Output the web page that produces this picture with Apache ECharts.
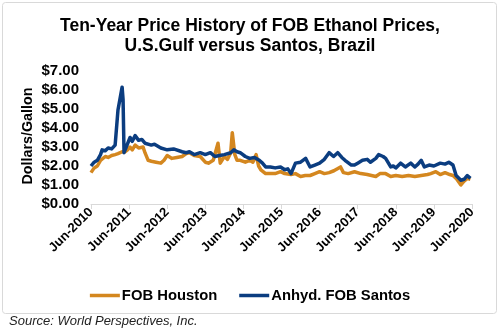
<!DOCTYPE html>
<html>
<head>
<meta charset="utf-8">
<script src="https://cdn.jsdelivr.net/npm/echarts@6/dist/echarts.min.js"></script>
<style>html,body{margin:0;padding:0;background:#fff;}#c{width:500px;height:332px;}</style>
</head>
<body>
<div id="c"></div>
<script>
// months since Jun-2010
var houstonX = [0,1,2,3,3.5,4.5,5.4,6.5,7.6,8.5,9.8,10.7,11.5,12.3,13,13.9,15,16.4,17,18,19,20.5,22,23,24,25.5,27,28.7,30,31,32.5,34.4,36,37,38.5,40,40.7,42,43,44,44.5,45.3,46,47,48.6,50,51,52,52.8,53.5,55,57,58,59.7,61,63,64.4,66,67.5,69,70.5,72,73.5,75,76.5,78.6,79.5,81,83,85,87,89.7,91,92.8,94.4,96,98,100,102,104,106,107,108.6,110,111.5,113,114,115,116.5,117.5,118.5,119.5];
var houstonY = [1.65,1.9,2.0,2.3,2.2,2.5,2.45,2.55,2.6,2.65,2.75,2.75,2.85,3.0,2.85,3.1,2.95,3.0,2.7,2.3,2.25,2.2,2.15,2.3,2.55,2.4,2.45,2.5,2.65,2.7,2.55,2.5,2.2,2.15,2.3,3.2,2.15,2.5,2.35,2.7,3.75,2.6,2.3,2.3,2.2,2.3,2.2,2.6,2.0,1.8,1.6,1.6,1.6,1.7,1.6,1.55,1.6,1.45,1.5,1.5,1.6,1.7,1.6,1.65,1.75,1.95,1.65,1.6,1.7,1.6,1.55,1.45,1.6,1.6,1.45,1.5,1.45,1.5,1.45,1.5,1.55,1.6,1.7,1.55,1.65,1.55,1.5,1.35,1.0,1.2,1.35,1.3];
var santosX = [0,1,2,3,3.5,4.5,5.4,6.5,7.6,8.2,8.5,9,9.8,10.1,10.4,11,12.3,13,13.9,15,16,17,19,20,22,24,26,28.7,30,31,32.5,34.4,36,37.6,39,40.5,42,44,45,46,47,48.6,50,51.5,53,54,55,56.5,58,59.7,61,62,63,64.4,66,67.6,69,70.5,72,73.5,75,76.4,77.7,79,80,82,83,84,85.5,87,88,89.7,90.6,92,92.8,94.4,95.2,96,97.5,99,100.7,102,103,104,105,106.5,108,110,111.5,112.7,114,115,116.5,117.5,118.5,119.5];
var santosY = [2.0,2.2,2.3,2.6,2.85,2.8,2.95,2.9,3.1,3.0,4.95,5.0,6.15,5.5,2.7,2.8,3.5,3.3,3.6,3.35,3.4,3.2,3.1,3.15,2.95,2.85,2.9,2.75,2.7,2.75,2.6,2.7,2.6,2.7,2.5,2.55,2.6,2.7,2.85,2.75,2.7,2.5,2.4,2.45,2.3,2.15,1.95,1.95,1.9,1.95,1.8,1.85,1.6,2.15,2.2,2.4,1.95,2.05,2.15,2.35,2.7,2.5,2.7,2.45,2.3,2.05,2.05,2.15,2.3,2.35,2.2,2.4,2.6,2.5,2.4,1.95,2.0,1.9,2.15,1.95,2.15,1.95,2.1,2.3,1.95,2.05,2.0,2.15,2.1,2.2,2.05,1.5,1.25,1.3,1.5,1.35];
var yTicks = [0,1,2,3,4,5,6,7];
var startYear = 2010;

function pairs(xs, ys){ return xs.map(function(x,i){ return [x, ys[i]]; }); }

var chart = echarts.init(document.getElementById('c'), null, {renderer:'canvas'});
var F = 'Liberation Sans, Arial, sans-serif';
chart.setOption({
  animation: false,
  textStyle: {fontFamily: F},
  graphic: [
    {type:'rect', shape:{x:2.5,y:2.5,width:494,height:311,r:3}, style:{fill:'none', stroke:'#d9d9d9', lineWidth:1}, z:-1},
    {type:'text', left:9, top:315, style:{text:'Source: World Perspectives, Inc.', font:'italic 13px Liberation Sans, Arial', fill:'#222'}},
    {type:'text', x:28, y:136, rotation:Math.PI/2,
      style:{text:'Dollars/Gallon', font:'bold 14.3px Liberation Sans, Arial', fill:'#000', align:'center', verticalAlign:'middle'}}
  ],
  title: {
    text: 'Ten-Year Price History of FOB Ethanol Prices,\nU.S.Gulf versus Santos, Brazil',
    left: 'center', top: 11,
    textStyle: {fontFamily:F, fontSize:17.5, fontWeight:'bold', color:'#000', lineHeight:20}
  },
  legend: {
    left: 'center', top: 283, icon: 'rect', itemWidth: 30, itemHeight: 3.5, itemGap: 22,
    textStyle: {fontFamily:F, fontSize:14.8, fontWeight:'bold', color:'#000', padding:[0,0,0,-3]},
    data: ['FOB Houston','Anhyd. FOB Santos']
  },
  grid: {left:91, right:28, top:71, bottom:128, containLabel:false},
  xAxis: {
    type:'value', min:0, max:120, interval:12,
    axisLine:{show:true, lineStyle:{color:'#d9d9d9', width:1}},
    axisTick:{show:true, length:5, lineStyle:{color:'#d9d9d9'}},
    splitLine:{show:false},
    axisLabel:{rotate:45, margin:6, fontFamily:F, fontSize:13, fontWeight:'bold', color:'#000',
      formatter:function(v){ return 'Jun-' + (startYear + Math.round(v/12)); }}
  },
  yAxis: {
    type:'value', min:yTicks[0], max:yTicks[yTicks.length-1], interval:1,
    axisLine:{show:false}, axisTick:{show:false}, splitLine:{show:false},
    axisLabel:{margin:12, fontFamily:F, fontSize:15, fontWeight:'bold', color:'#000',
      formatter:function(v){ return '$' + v.toFixed(2); }}
  },
  series: [
    {name:'FOB Houston', type:'line', data:pairs(houstonX, houstonY), showSymbol:false, symbol:'none',
      lineStyle:{color:'#D4871F', width:3.5, join:'round'}, itemStyle:{color:'#D4871F'}},
    {name:'Anhyd. FOB Santos', type:'line', data:pairs(santosX, santosY), showSymbol:false, symbol:'none',
      lineStyle:{color:'#0B3D80', width:3.5, join:'round'}, itemStyle:{color:'#0B3D80'}}
  ]
});
</script>
</body>
</html>
